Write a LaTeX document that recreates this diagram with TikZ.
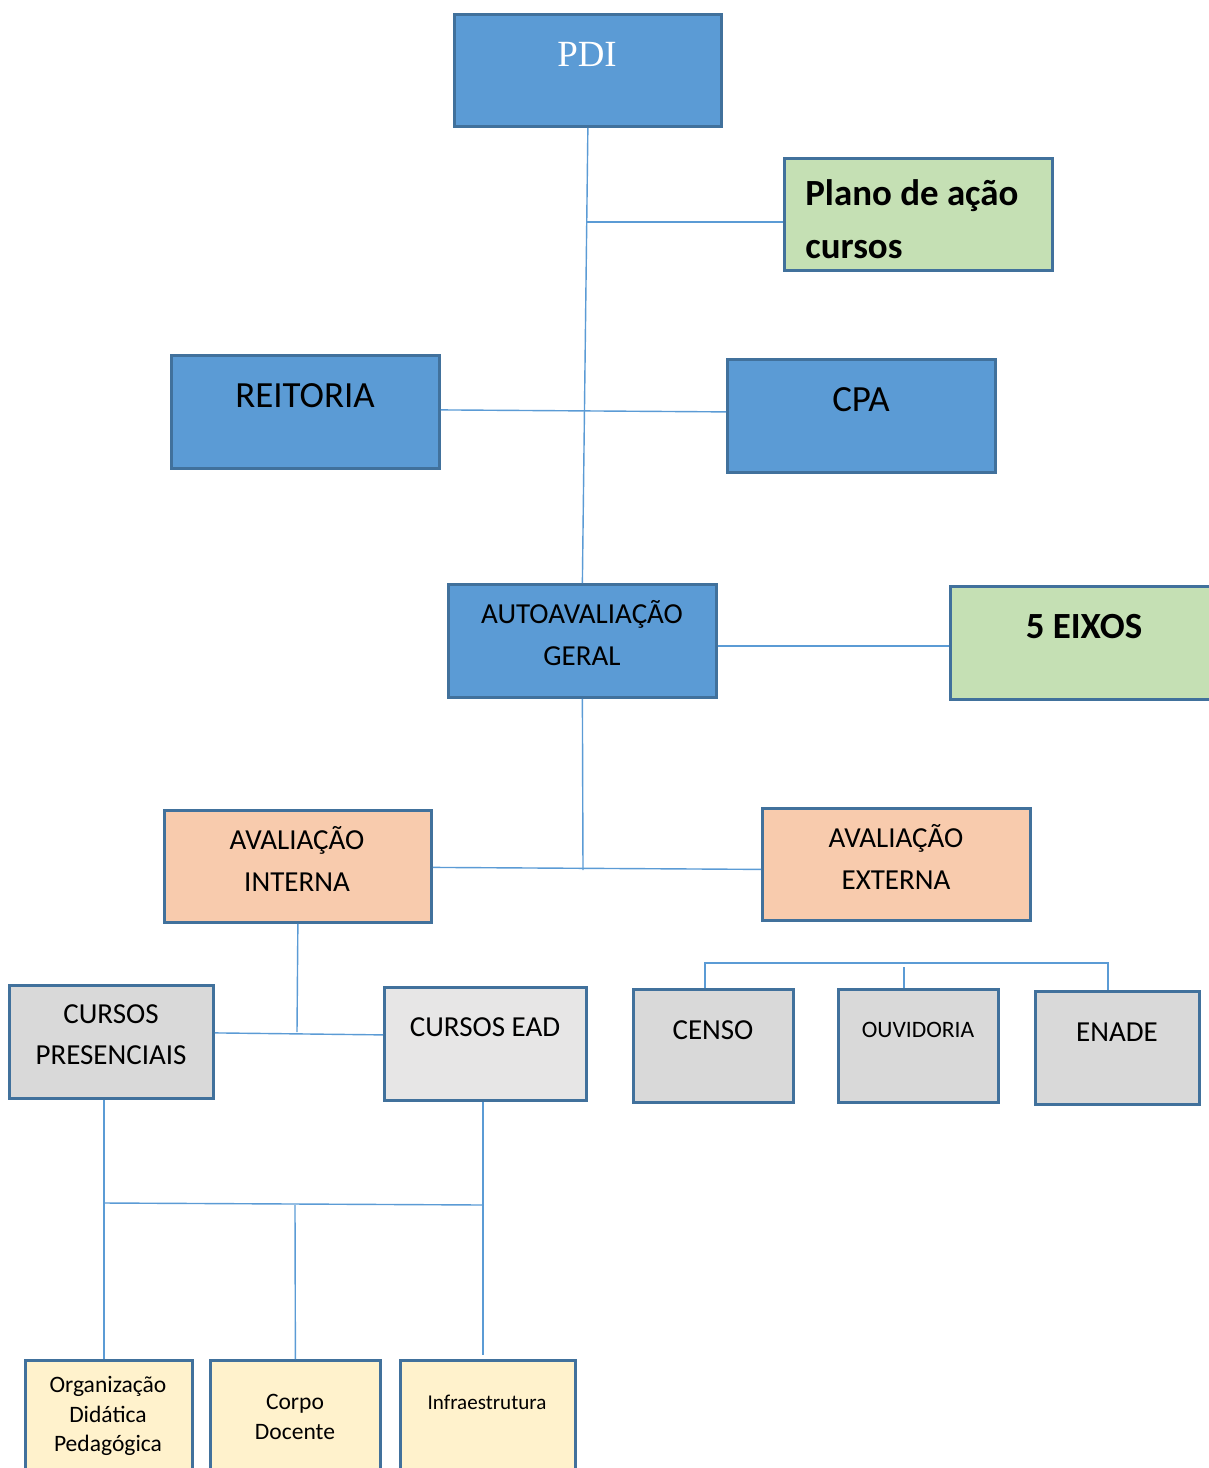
\documentclass[tikz,border=0pt]{standalone}
\usepackage{fontspec}
\setmainfont{Carlito}
\newfontfamily\pdifont{Liberation Serif}
\usetikzlibrary{calc}
\definecolor{bluefill}{HTML}{5B9BD5}
\definecolor{boxline}{HTML}{41719C}
\definecolor{greenfill}{HTML}{C5E0B4}
\definecolor{peachfill}{HTML}{F8CBAD}
\definecolor{grayfill}{HTML}{D9D9D9}
\definecolor{lightgray}{HTML}{E7E6E6}
\definecolor{creamfill}{HTML}{FFF2CC}
\tikzset{
  box/.style={draw=boxline, line width=1.6pt, anchor=north west, inner sep=0pt},
  bluebox/.style={box, fill=bluefill},
  greenbox/.style={box, fill=greenfill},
  peachbox/.style={box, fill=peachfill},
  graybox/.style={box, fill=grayfill},
  creambox/.style={box, fill=creamfill},
  conn/.style={draw=bluefill, line width=0.8pt},
  big/.style={font=\fontsize{21}{30}\selectfont, align=center, inner sep=0pt},
  mid/.style={font=\fontsize{16.5}{23.5}\selectfont, align=center, inner sep=0pt},
  small/.style={font=\fontsize{13.4}{17}\selectfont, align=center, inner sep=0pt},
}
\begin{document}
\begin{tikzpicture}[x=0.02cm, y=-0.02cm]
        \useasboundingbox (0,0) rectangle (1209,1468);

        \node[bluebox, minimum width=5.34cm, minimum height=2.24cm] (pdi) at (453,13) {};
        \node[big, text=white, font=\pdifont\fontsize{21}{25}\selectfont] (pdi-t) at (587,54) {PDI};
        \node[greenbox, minimum width=5.36cm, minimum height=2.24cm] (plano) at (783,157) {};
        \node[big, anchor=west, align=left, font=\bfseries\fontsize{21}{30}\selectfont] (plano-t) at (805,219) {Plano de ação\\cursos};
        \node[bluebox, minimum width=5.36cm, minimum height=2.26cm] (reitoria) at (170,354) {};
        \node[big] (reitoria-t) at (305,396) {REITORIA};
        \node[bluebox, minimum width=5.36cm, minimum height=2.26cm] (cpa) at (726,358) {};
        \node[big] (cpa-t) at (861,400) {CPA};

        \node[bluebox, minimum width=5.36cm, minimum height=2.26cm] (auto) at (447,583) {};
        \node[mid] (auto-t) at (582,633) {AUTOAVALIAÇÃO\\GERAL};
        \node[greenbox, minimum width=5.4cm, minimum height=2.26cm] (eixos) at (949,585) {};
        \node[big, font=\bfseries\fontsize{21}{25}\selectfont] (eixos-t) at (1084,627) {5 EIXOS};

        \node[peachbox, minimum width=5.34cm, minimum height=2.24cm] (interna) at (163,809) {};
        \node[mid] (interna-t) at (297,859) {AVALIAÇÃO\\INTERNA};
        \node[peachbox, minimum width=5.36cm, minimum height=2.24cm] (externa) at (761,807) {};
        \node[mid] (externa-t) at (896,857) {AVALIAÇÃO\\EXTERNA};

        \node[graybox, minimum width=4.08cm, minimum height=2.26cm] (pres) at (8,984) {};
        \node[mid] (pres-t) at (111,1035) {CURSOS\\PRESENCIAIS};
        \node[box, fill=lightgray, minimum width=4.04cm, minimum height=2.26cm] (ead) at (383,986) {};
        \node[mid] (ead-t) at (485,1027) {CURSOS EAD};
        \node[graybox, minimum width=3.2cm, minimum height=2.26cm] (censo) at (632,988) {};
        \node[mid] (censo-t) at (713,1030) {CENSO};
        \node[graybox, minimum width=3.2cm, minimum height=2.26cm] (ouv) at (837,988) {};
        \node[small] (ouv-t) at (918,1030) {OUVIDORIA};
        \node[graybox, minimum width=3.28cm, minimum height=2.26cm] (enade) at (1034,990) {};
        \node[mid] (enade-t) at (1117,1032) {ENADE};

        \node[creambox, minimum width=3.34cm, minimum height=2.8cm] (org) at (24,1359) {};
        \node[small] (org-t) at (108,1416) {Organização\\Didática\\Pedagógica};
        \node[creambox, minimum width=3.4cm, minimum height=2.8cm] (corpo) at (209,1359) {};
        \node[small] (corpo-t) at (295,1417) {Corpo\\Docente};
        \node[creambox, minimum width=3.5cm, minimum height=2.8cm] (infra) at (399,1359) {};
        \node[small, font=\fontsize{12}{15}\selectfont] (infra-t) at (487,1402) {Infraestrutura};

        \coordinate (j1) at (586,222);
        \coordinate (j2) at (583,870);
        \coordinate (j3) at (297,1032);
        \coordinate (b1) at (705,963);
        \coordinate (b2) at (1108,963);
        \coordinate (b3) at (904,967);
        \coordinate (k1) at (104,1203);
        \coordinate (k2) at (483,1205);
        \coordinate (k3) at (295,1205);
        \coordinate (k4) at (483,1355);

        \draw[conn] (pdi.south) -- (auto.north);
        \draw[conn] (j1) -- (j1 -| plano.west);
        \draw[conn] ($(reitoria.east)+(0,-2)$) -- ($(cpa.west)+(0,-4)$);
        \draw[conn] ($(auto.east)+(0,5)$) -- ($(eixos.west)+(0,3)$);
        \draw[conn] (auto.south) -- (j2);
        \draw[conn] ($(interna.east)+(0,1)$) -- ($(externa.west)+(0,5)$);
        \draw[conn] (interna.south) -- (j3);
        \draw[conn] ($(pres.east)+(0,-9)$) -- ($(ead.west)+(0,-9)$);
        \draw[conn] (b1 |- censo.north) -- (b1) -- (b2) -- (b2 |- enade.north);
        \draw[conn] (b3) -- (b3 |- ouv.north);
        \draw[conn] (k1 |- pres.south) -- (k1) -- (k1 |- org.north);
        \draw[conn] (k1) -- (k2);
        \draw[conn] (k2 |- ead.south) -- (k2) -- (k4);
        \draw[conn] (k3) -- (corpo.north);
\end{tikzpicture}
\end{document}
